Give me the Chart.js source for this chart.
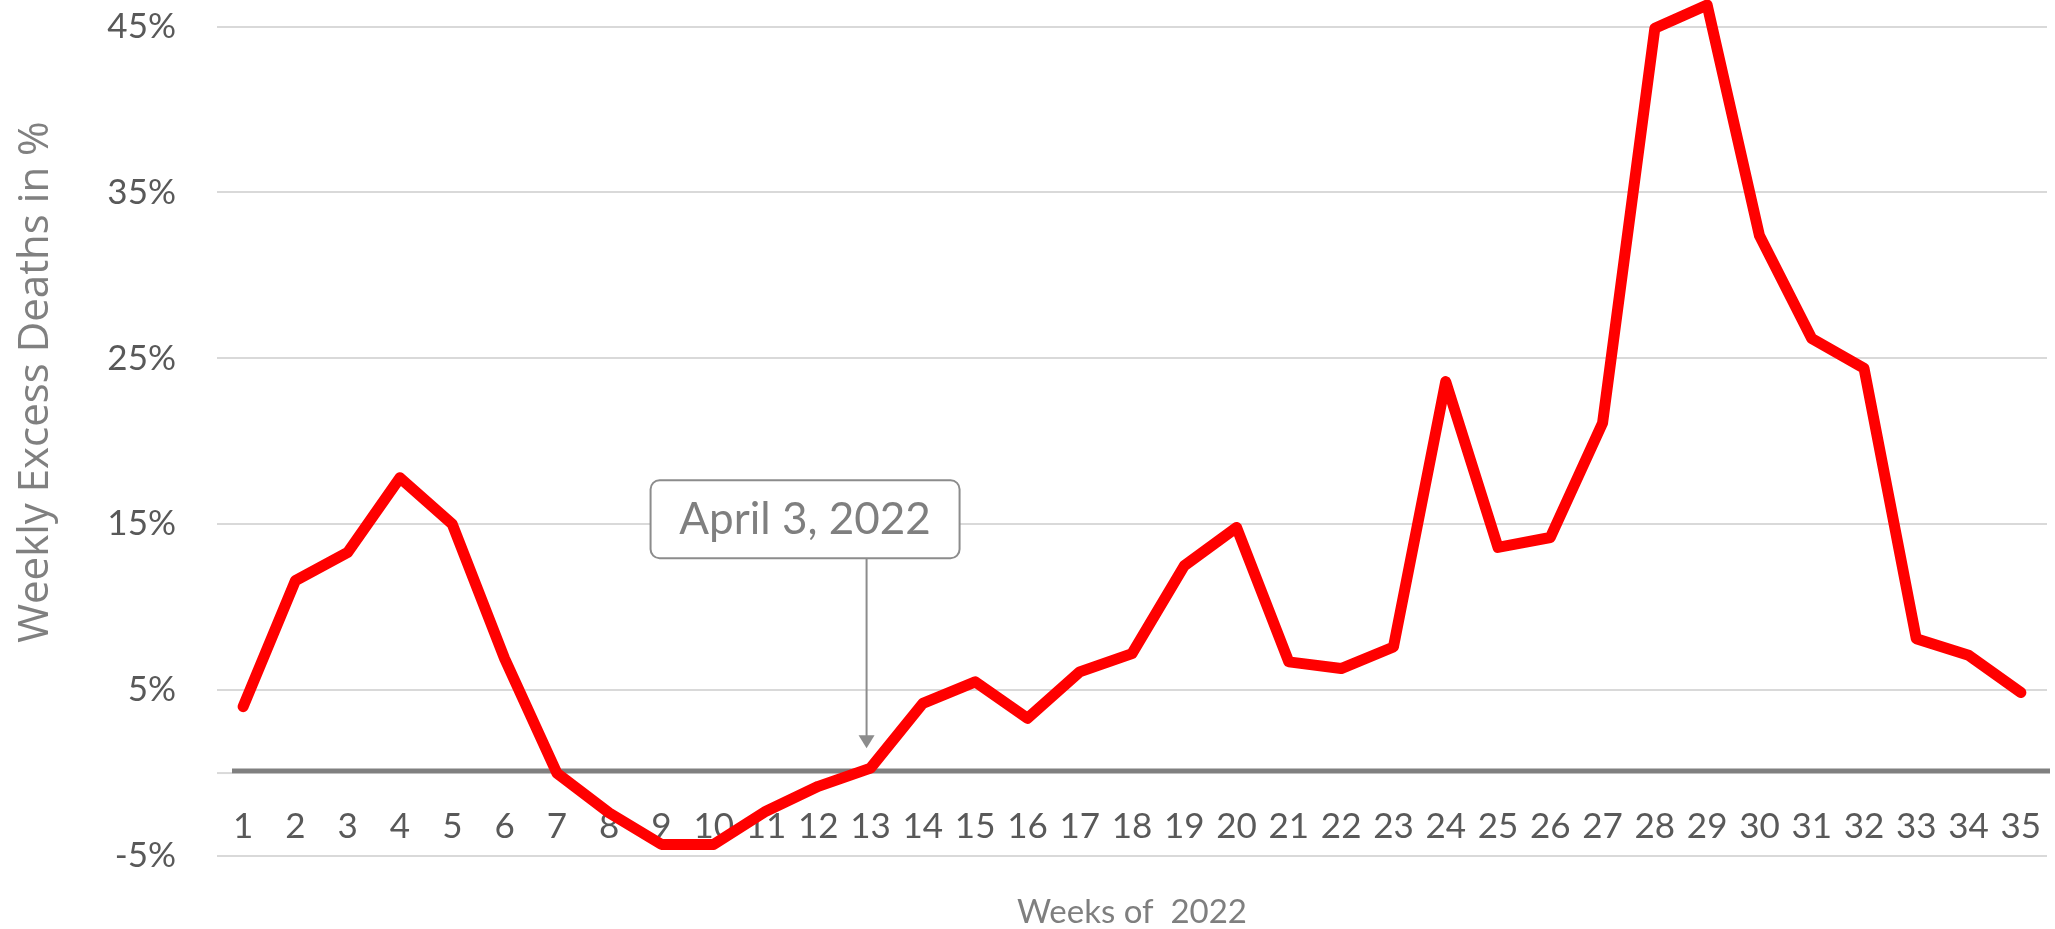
<!DOCTYPE html>
<html>
<head>
<meta charset="utf-8">
<title>Weekly Excess Deaths 2022</title>
<script src="https://cdn.jsdelivr.net/npm/chart.js"></script>
<style>
  html, body { margin: 0; padding: 0; background: #ffffff; overflow: hidden; }
  canvas { display: block; }
</style>
</head>
<body>
<canvas id="excessChart" width="2055" height="929"></canvas>
<script>
// weeks of 2022
const weeks = ['1', '2', '3', '4', '5', '6', '7', '8', '9', '10', '11', '12', '13', '14', '15', '16', '17', '18',
  '19', '20', '21', '22', '23', '24', '25', '26', '27', '28', '29', '30', '31', '32', '33', '34', '35'];

// weekly excess deaths in %
const excessDeaths = [4.0, 11.6, 13.3, 17.8, 15.0, 6.9, 0.0, -2.4, -4.3, -4.3, -2.3, -0.8, 0.3, 4.2, 5.5, 3.3, 6.1, 7.2,
  12.5, 14.8, 6.7, 6.3, 7.6, 23.6, 13.6, 14.2, 21.1, 44.9, 46.3, 32.4, 26.2, 24.4, 8.1, 7.1, 4.85];

const yTicks = [-5, 5, 15, 25, 35, 45];

// callout
const calloutWeek = '13';
const calloutText = 'April 3, 2022';
const calloutBoxValue = 15.3;   // box centre, in %
const calloutTipValue = 1.5;    // arrow tip, in %

const excessChart = {
  chart: undefined

  // thick grey line on 0 %
  , zeroLinePlugin: {
    id: 'zeroLine',
    beforeDatasetsDraw: (chart) => {
      const { ctx, chartArea, scales } = chart;
      const y = scales.y.getPixelForValue(0);
      ctx.save();
      ctx.strokeStyle = '#d9d9d9';
      ctx.lineWidth = 2;
      ctx.beginPath();
      ctx.moveTo(chartArea.left, y);
      ctx.lineTo(chartArea.left + 15, y);
      ctx.stroke();
      ctx.strokeStyle = '#808080';
      ctx.lineWidth = 5;
      ctx.beginPath();
      ctx.moveTo(chartArea.left + 15, y - 2);
      ctx.lineTo(chartArea.right + 3, y - 2);
      ctx.stroke();
      ctx.restore();
    }
  }

  // "April 3, 2022" box with arrow + y axis title
  , calloutPlugin: {
    id: 'callout',
    afterDraw: (chart) => {
      const { ctx, chartArea, scales } = chart;
      const x = scales.x.getPixelForValue(weeks.indexOf(calloutWeek)) - 4;
      const boxMid = scales.y.getPixelForValue(calloutBoxValue);
      const tip = scales.y.getPixelForValue(calloutTipValue);
      const left = x - 216, w = 309, h = 78, top = boxMid - h / 2;

      ctx.save();
      // arrow
      ctx.strokeStyle = '#8c8c8c';
      ctx.fillStyle = '#8c8c8c';
      ctx.lineWidth = 2;
      ctx.beginPath();
      ctx.moveTo(x, top + h);
      ctx.lineTo(x, tip - 12);
      ctx.stroke();
      ctx.beginPath();
      ctx.moveTo(x - 8, tip - 13);
      ctx.lineTo(x + 8, tip - 13);
      ctx.lineTo(x, tip);
      ctx.closePath();
      ctx.fill();

      // box
      ctx.fillStyle = '#ffffff';
      ctx.beginPath();
      ctx.roundRect(left, top, w, h, 9);
      ctx.fill();
      ctx.stroke();

      ctx.fillStyle = '#7f7f7f';
      ctx.font = '44px Lato';
      ctx.textAlign = 'center';
      ctx.textBaseline = 'middle';
      ctx.fillText(calloutText, left + w / 2, boxMid + 1);

      // y axis title
      ctx.translate(36, (chartArea.top + chartArea.bottom) / 2 - 46);
      ctx.rotate(-Math.PI / 2);
      ctx.fillStyle = '#808080';
      ctx.font = '42px "Open Sans"';
      ctx.fillText('Weekly Excess Deaths in %', 0, 0);
      ctx.restore();
    }
  }

  , draw: () => {
    const ctx = document.getElementById('excessChart').getContext('2d');
    if (excessChart.chart) {
      excessChart.chart.destroy();
    }
    excessChart.chart = new Chart(ctx, {
      type: 'line',
      data: {
        labels: weeks,
        datasets: [{
          label: 'Weekly Excess Deaths',
          data: excessDeaths,
          borderColor: '#ff0000',
          borderWidth: 11,
          borderCapStyle: 'round',
          borderJoinStyle: 'round',
          pointRadius: 0,
          tension: 0,
          fill: false
        }]
      },
      options: {
        responsive: false,
        animation: false,
        layout: { padding: { left: 0, right: 8, top: 0, bottom: 0 } },
        plugins: {
          legend: { display: false },
          tooltip: { enabled: false }
        },
        scales: {
          x: {
            offset: true,
            grid: { display: false, drawTicks: false },
            border: { display: false },
            ticks: {
              color: '#595959',
              font: { family: 'Lato', size: 35 },
              mirror: true,   // labels sit above the -5% line, under the 0 line
              padding: 8,
              maxRotation: 0,
              autoSkip: false
            },
            title: {
              display: true,
              text: 'Weeks of  2022',
              color: '#7f7f7f',
              font: { family: 'Lato', size: 33, lineHeight: 1 },
              padding: 0
            },
            afterFit: (scale) => {
              scale.height = 73;
              scale.paddingLeft = 0;
              scale.paddingRight = 0;
            }
          },
          y: {
            min: -5,
            max: 46.6,
            afterBuildTicks: (scale) => {
              scale.ticks = yTicks.map(v => ({ value: v }));
            },
            grid: { color: '#d9d9d9', lineWidth: 2, drawTicks: false },
            border: { display: false },
            ticks: {
              color: '#595959',
              font: { family: 'Lato', size: 35 },
              padding: 41,
              callback: (v) => v + '%'
            },
            afterFit: (scale) => {
              scale.width = 217;
              scale.paddingTop = 0;
              scale.paddingBottom = 0;
            }
          }
        }
      },
      plugins: [excessChart.zeroLinePlugin, excessChart.calloutPlugin]
    });
  }
};

excessChart.draw();
</script>
</body>
</html>
